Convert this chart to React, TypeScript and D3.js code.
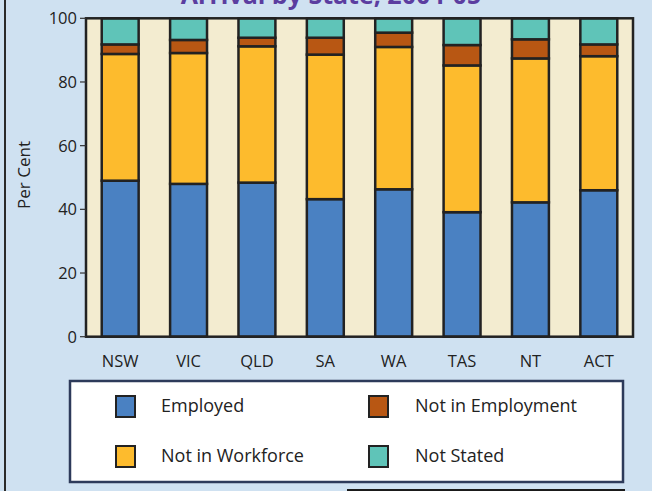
import React from "react";
import * as d3 from "d3";

const categories = ["NSW", "VIC", "QLD", "SA", "WA", "TAS", "NT", "ACT"];
const seriesNames = ["Employed", "Not in Workforce", "Not in Employment", "Not Stated"];
const employed = [49.0, 48.0, 48.4, 43.2, 46.3, 39.1, 42.2, 46.0];
const notInWorkforce = [39.8, 41.1, 42.8, 45.4, 44.7, 46.1, 45.2, 42.1];
const notInEmployment = [3.0, 4.1, 2.7, 5.3, 4.5, 6.4, 6.0, 3.7];
const notStated = [8.2, 6.8, 6.1, 6.1, 4.5, 8.4, 6.6, 8.2];
const yTicks = [0, 20, 40, 60, 80, 100];
const colors = ["#4a81c2", "#fdbb2d", "#b85713", "#5fc4b8"];

const W = 652;
const H = 491;
const plot = { left: 86, right: 633, top: 18.3, bottom: 336.7 };
const FONT = "'Open Sans', 'Noto Sans', sans-serif";

export default function App() {
  const x = d3
    .scaleBand<string>()
    .domain(categories)
    .range([plot.left, plot.right])
    .paddingInner(0.46)
    .paddingOuter(0.23);
  const y = d3.scaleLinear().domain([0, 100]).range([plot.bottom, plot.top]);

  const rows = categories.map((c, i) => ({
    cat: c,
    Employed: employed[i],
    "Not in Workforce": notInWorkforce[i],
    "Not in Employment": notInEmployment[i],
    "Not Stated": notStated[i],
  }));
  const stacked = d3.stack<any>().keys(seriesNames)(rows);

  const legendItems = [
    { name: "Employed", color: colors[0], sx: 116, tx: 161, cy: 406 },
    { name: "Not in Employment", color: colors[2], sx: 369, tx: 415, cy: 406 },
    { name: "Not in Workforce", color: colors[1], sx: 116, tx: 161, cy: 456 },
    { name: "Not Stated", color: colors[3], sx: 369, tx: 415, cy: 456 },
  ];

  return (
    <svg
      width={W}
      height={H}
      style={{ position: "absolute", left: 0, top: 0, display: "block" }}
      fontFamily={FONT}
    >
      <rect x={0} y={0} width={W} height={H} fill="#cfe1f1" />
      <line x1={5} x2={5} y1={0} y2={H} stroke="#2a2a2a" strokeWidth={2} />
      <text
        x={331}
        y={3.5}
        textAnchor="middle"
        fontSize={25}
        fontWeight="bold"
        fill="#5b3da0"
      >
        Arrival by State, 2004-05
      </text>

      <rect
        x={plot.left}
        y={plot.top}
        width={plot.right - plot.left}
        height={plot.bottom - plot.top}
        fill="#f3ecd0"
      />

      {stacked.map((s, si) =>
        s.map((d, i) => (
          <rect
            key={`${si}-${i}`}
            x={x(categories[i])}
            y={y(d[1])}
            width={x.bandwidth()}
            height={y(d[0]) - y(d[1])}
            fill={colors[si]}
            stroke="#222"
            strokeWidth={2.5}
          />
        ))
      )}

      <rect
        x={plot.left}
        y={plot.top}
        width={plot.right - plot.left}
        height={plot.bottom - plot.top}
        fill="none"
        stroke="#222"
        strokeWidth={2.5}
      />

      {yTicks.map((t) => (
        <g key={t}>
          <line x1={80} x2={plot.left} y1={y(t)} y2={y(t)} stroke="#333" strokeWidth={1.2} />
          <text
            x={77}
            y={y(t)}
            dy="0.36em"
            textAnchor="end"
            fontSize={16.5}
            fill="#222"
          >
            {t}
          </text>
        </g>
      ))}

      <text
        transform={`translate(30,175) rotate(-90)`}
        textAnchor="middle"
        fontSize={17}
        fill="#222"
      >
        Per Cent
      </text>

      {categories.map((c) => (
        <text
          key={c}
          x={(x(c) as number) + x.bandwidth() / 2}
          y={367}
          textAnchor="middle"
          fontSize={16.5}
          fill="#222"
        >
          {c}
        </text>
      ))}

      <rect x={70} y={381} width={553} height={101} fill="#ffffff" stroke="#2d3a5a" strokeWidth={2.5} />
      {legendItems.map((l) => (
        <g key={l.name}>
          <rect
            x={l.sx}
            y={l.cy - 10}
            width={19}
            height={21}
            fill={l.color}
            stroke="#222"
            strokeWidth={2}
          />
          <text x={l.tx} y={l.cy} dy="0.35em" fontSize={18} fill="#222">
            {l.name}
          </text>
        </g>
      ))}

      <line x1={347} x2={625} y1={490} y2={490} stroke="#1a1a1a" strokeWidth={2} />
    </svg>
  );
}
